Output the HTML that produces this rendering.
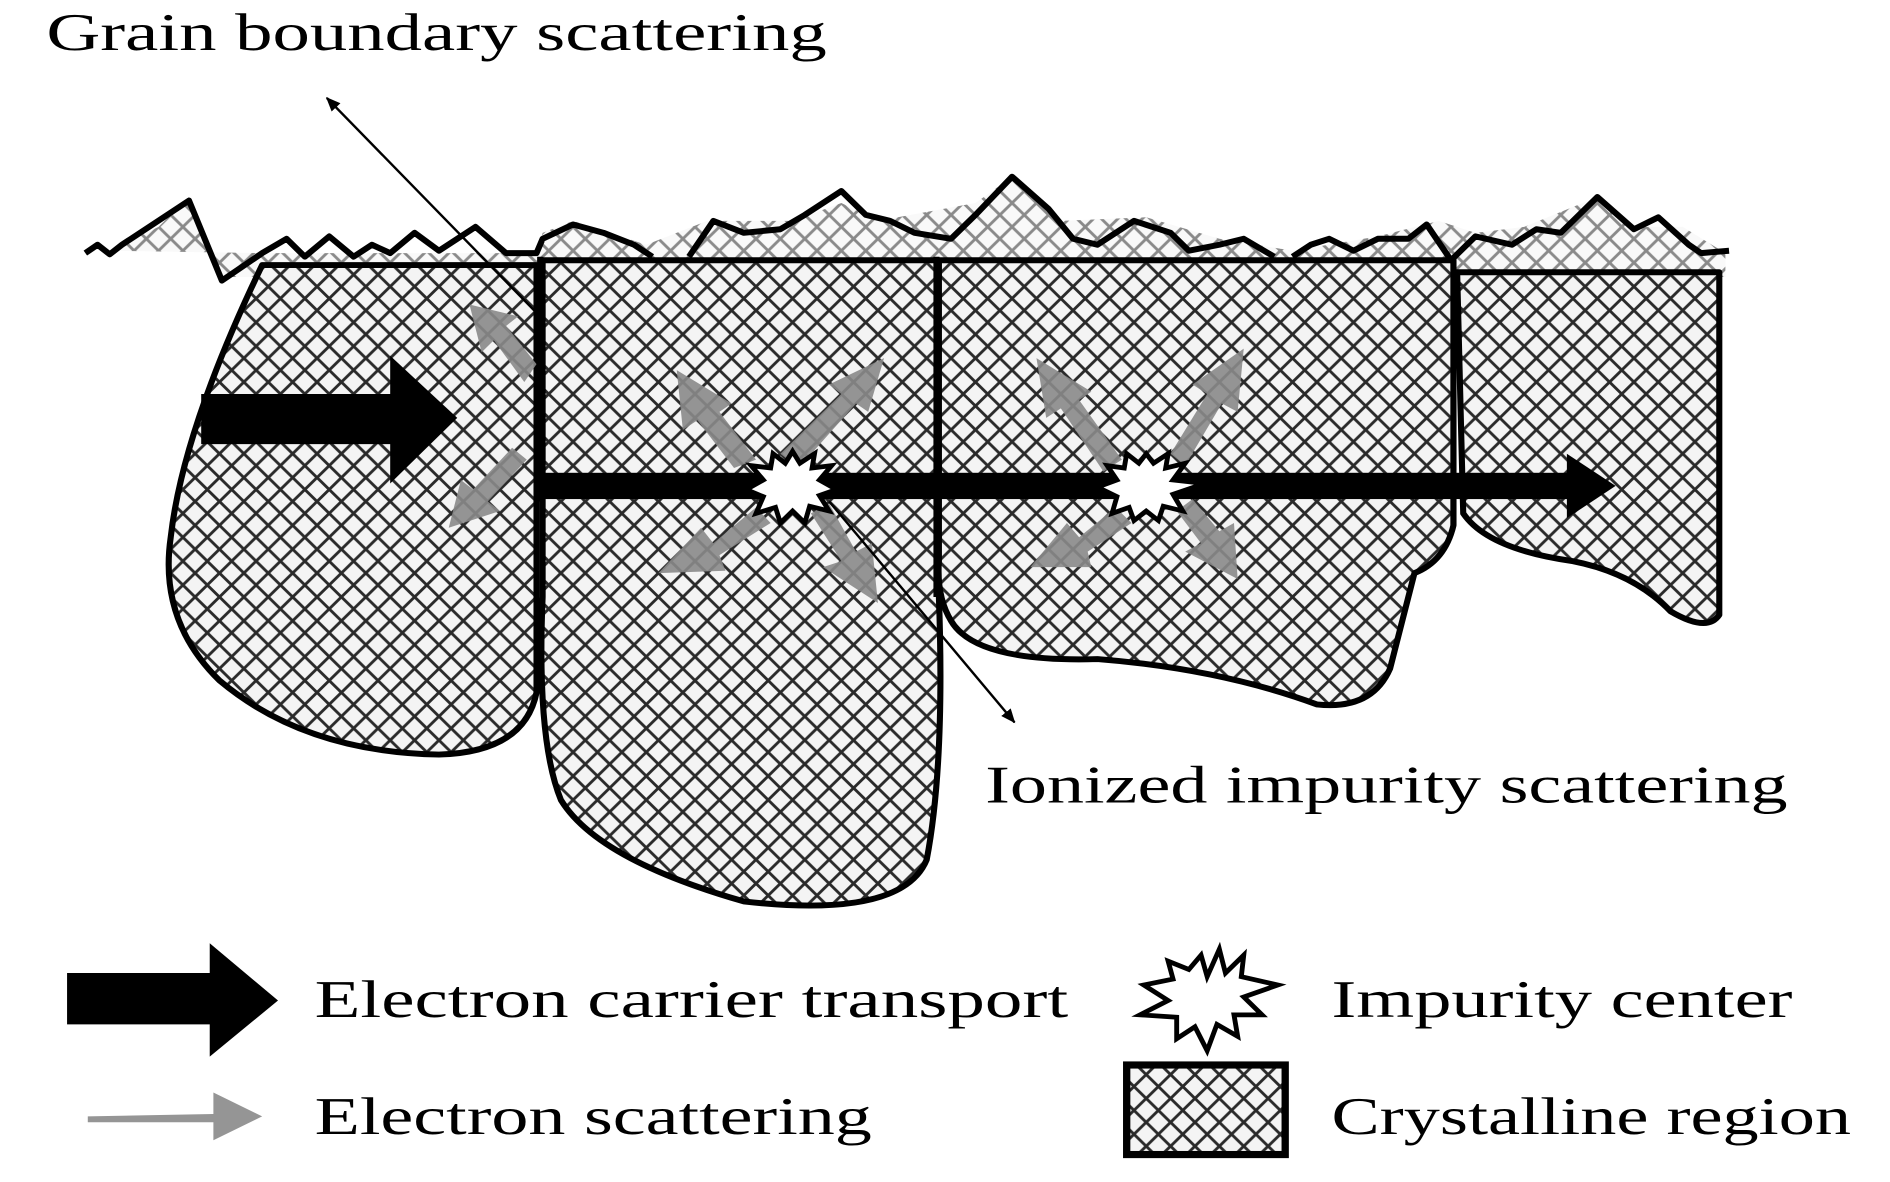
<!DOCTYPE html>
<html><head><meta charset="utf-8"><style>html,body{margin:0;padding:0;background:#fff}svg{display:block}</style></head>
<body>
<svg width="1890" height="1182" viewBox="0 0 1550 990" preserveAspectRatio="none" xmlns="http://www.w3.org/2000/svg">
<defs>
<pattern id="h" width="20" height="20" patternUnits="userSpaceOnUse">
<rect width="20" height="20" fill="#f4f4f4"/>
<path d="M-5 5L5 -5M0 20L20 0M15 25L25 15M-5 15L5 25M0 0L20 20M15 -5L25 5" stroke="#2a2a2a" stroke-width="2.4"/>
</pattern>
<marker id="a" markerWidth="12" markerHeight="10" refX="11" refY="5" orient="auto" markerUnits="userSpaceOnUse"><path d="M0 0L12 5L0 10z" fill="#000"/></marker>
</defs>
<g font-family="'Liberation Serif',serif" font-size="44" fill="#000" lengthAdjust="spacingAndGlyphs">
<text x="38" y="42" textLength="640" lengthAdjust="spacingAndGlyphs">Grain boundary scattering</text>
<text x="808" y="672" textLength="658" lengthAdjust="spacingAndGlyphs">Ionized impurity scattering</text>
<text x="258" y="852" textLength="618" lengthAdjust="spacingAndGlyphs">Electron carrier transport</text>
<text x="258" y="950" textLength="457" lengthAdjust="spacingAndGlyphs">Electron scattering</text>
<text x="1092" y="852" textLength="378" lengthAdjust="spacingAndGlyphs">Impurity center</text>
<text x="1092" y="950" textLength="426" lengthAdjust="spacingAndGlyphs">Crystalline region</text>
</g>
<path d="M180 235 L155 165 L130 190 L90 210 L215 212 L440 212 L445 195 L470 185 L530 205 L580 185 L650 185 L690 170 L720 185 L800 170 L830 148 L870 185 L940 182 L1000 200 L1060 210 L1130 198 L1180 185 L1210 195 L1250 190 L1310 165 L1340 190 L1380 190 L1415 212 L1415 232 L180 232Z" fill="url(#h)" opacity="0.55"/>
<g stroke="#000" stroke-width="5" fill="url(#h)" stroke-linejoin="round">
<path d="M215 222 L440 222 L440 580 Q430 630 360 632 Q250 630 180 570 Q130 520 140 450 Q150 360 215 222Z"/>
<path d="M445 218 L768 218 L770 500 Q775 640 760 720 Q740 770 610 755 Q490 720 460 670 Q440 620 445 500Z"/>
<path d="M770 218 L1192 218 L1192 440 Q1185 470 1160 480 Q1150 520 1140 560 Q1125 595 1080 590 Q1000 560 900 552 Q800 555 780 520 Q768 500 770 470Z"/>
<path d="M1195 228 L1410 228 L1410 515 Q1400 530 1370 512 Q1340 480 1290 470 Q1220 460 1200 430Z"/>
</g>
<path d="M70 212 L80 205 L90 213 L100 205 L155 168 L182 235 L215 212 L235 200 L250 215 L270 198 L290 215 L305 205 L320 212 L340 195 L360 210 L390 190 L415 212 L440 212 L445 200 L470 188 L495 195 L520 205 L535 215 M565 215 L585 185 L610 195 L640 192 L660 180 L690 160 L710 180 L730 185 L750 195 L780 200 L800 180 L830 148 L860 175 L880 200 L900 205 L930 185 L960 195 L975 210 L1000 205 L1020 200 L1045 215 M1060 215 L1075 205 L1090 200 L1110 210 L1130 200 L1155 200 L1170 188 L1190 218 L1210 198 L1240 205 L1260 192 L1280 195 L1310 165 L1340 192 L1360 182 L1385 205 L1395 212 L1418 210" fill="none" stroke="#000" stroke-width="5" stroke-linejoin="round"/>
<g fill="#8a8a8a" opacity="0.9">
<path d="M430 320 L405 285 L395 295 L385 255 L425 265 L415 273 L440 305Z"/>
<path d="M432 385 L400 420 L410 428 L368 442 L378 402 L388 410 L420 375Z"/>
<path d="M620 385 L590 345 L600 338 L555 310 L560 360 L572 352 L602 392Z"/>
<path d="M640 380 L690 330 L680 322 L725 300 L712 345 L702 338 L655 392Z"/>
<path d="M620 425 L585 455 L575 442 L540 480 L595 478 L590 465 L632 438Z"/>
<path d="M665 430 L690 470 L675 475 L720 505 L715 455 L702 462 L680 422Z"/>
<path d="M920 385 L885 335 L895 328 L850 300 L858 350 L870 342 L905 395Z"/>
<path d="M960 380 L990 330 L978 322 L1020 292 L1015 345 L1002 338 L972 390Z"/>
<path d="M915 425 L885 450 L875 438 L845 475 L895 475 L892 462 L928 438Z"/>
<path d="M965 428 L985 455 L972 462 L1015 485 L1012 438 L1000 445 L978 418Z"/>
<path d="M72 935 L175 933 L175 915 L215 935 L175 955 L175 940 L72 940Z"/>
</g>
<path d="M165 330 L320 330 L320 298 L375 350 L320 405 L320 372 L165 372Z" fill="#000"/>
<rect x="442" y="396" width="850" height="22" fill="#000"/>
<path d="M1285 380 L1325 407 L1285 434Z" fill="#000"/>
<path d="M55 815 L172 815 L172 790 L228 838 L172 885 L172 858 L55 858Z" fill="#000"/>
<g stroke="#000" stroke-width="5" fill="none">
<line x1="443" y1="215" x2="443" y2="420"/>
<line x1="768" y1="215" x2="768" y2="500"/>
<line x1="1192" y1="215" x2="1192" y2="440"/>
</g>
<g fill="#fff" stroke="#000" stroke-width="4">
<path d="M650 378 L656 388 L668 380 L666 392 L682 390 L672 402 L686 410 L672 415 L680 428 L664 424 L660 438 L650 428 L640 438 L636 425 L620 430 L626 416 L612 410 L626 402 L616 390 L632 392 L634 380 L644 388Z"/>
<path d="M940 380 L946 388 L958 380 L956 392 L972 388 L962 402 L988 405 L962 414 L970 428 L954 424 L950 436 L940 428 L930 436 L926 425 L912 430 L916 416 L900 408 L916 402 L908 390 L922 392 L924 380 L934 388Z"/>
<path d="M985 800 L990 818 L1000 795 L1005 815 L1020 800 L1018 818 L1048 825 L1020 835 L1035 850 L1012 850 L1015 868 L998 858 L990 880 L980 860 L965 870 L965 852 L935 850 L958 838 L938 825 L962 820 L958 805 L975 812Z"/>
</g>
<rect x="924" y="892" width="130" height="75" fill="url(#h)" stroke="#000" stroke-width="6"/>
<line x1="440" y1="262" x2="268" y2="82" stroke="#000" stroke-width="2" marker-end="url(#a)"/>
<line x1="680" y1="420" x2="832" y2="605" stroke="#000" stroke-width="2" marker-end="url(#a)"/>
</svg>
</body></html>
